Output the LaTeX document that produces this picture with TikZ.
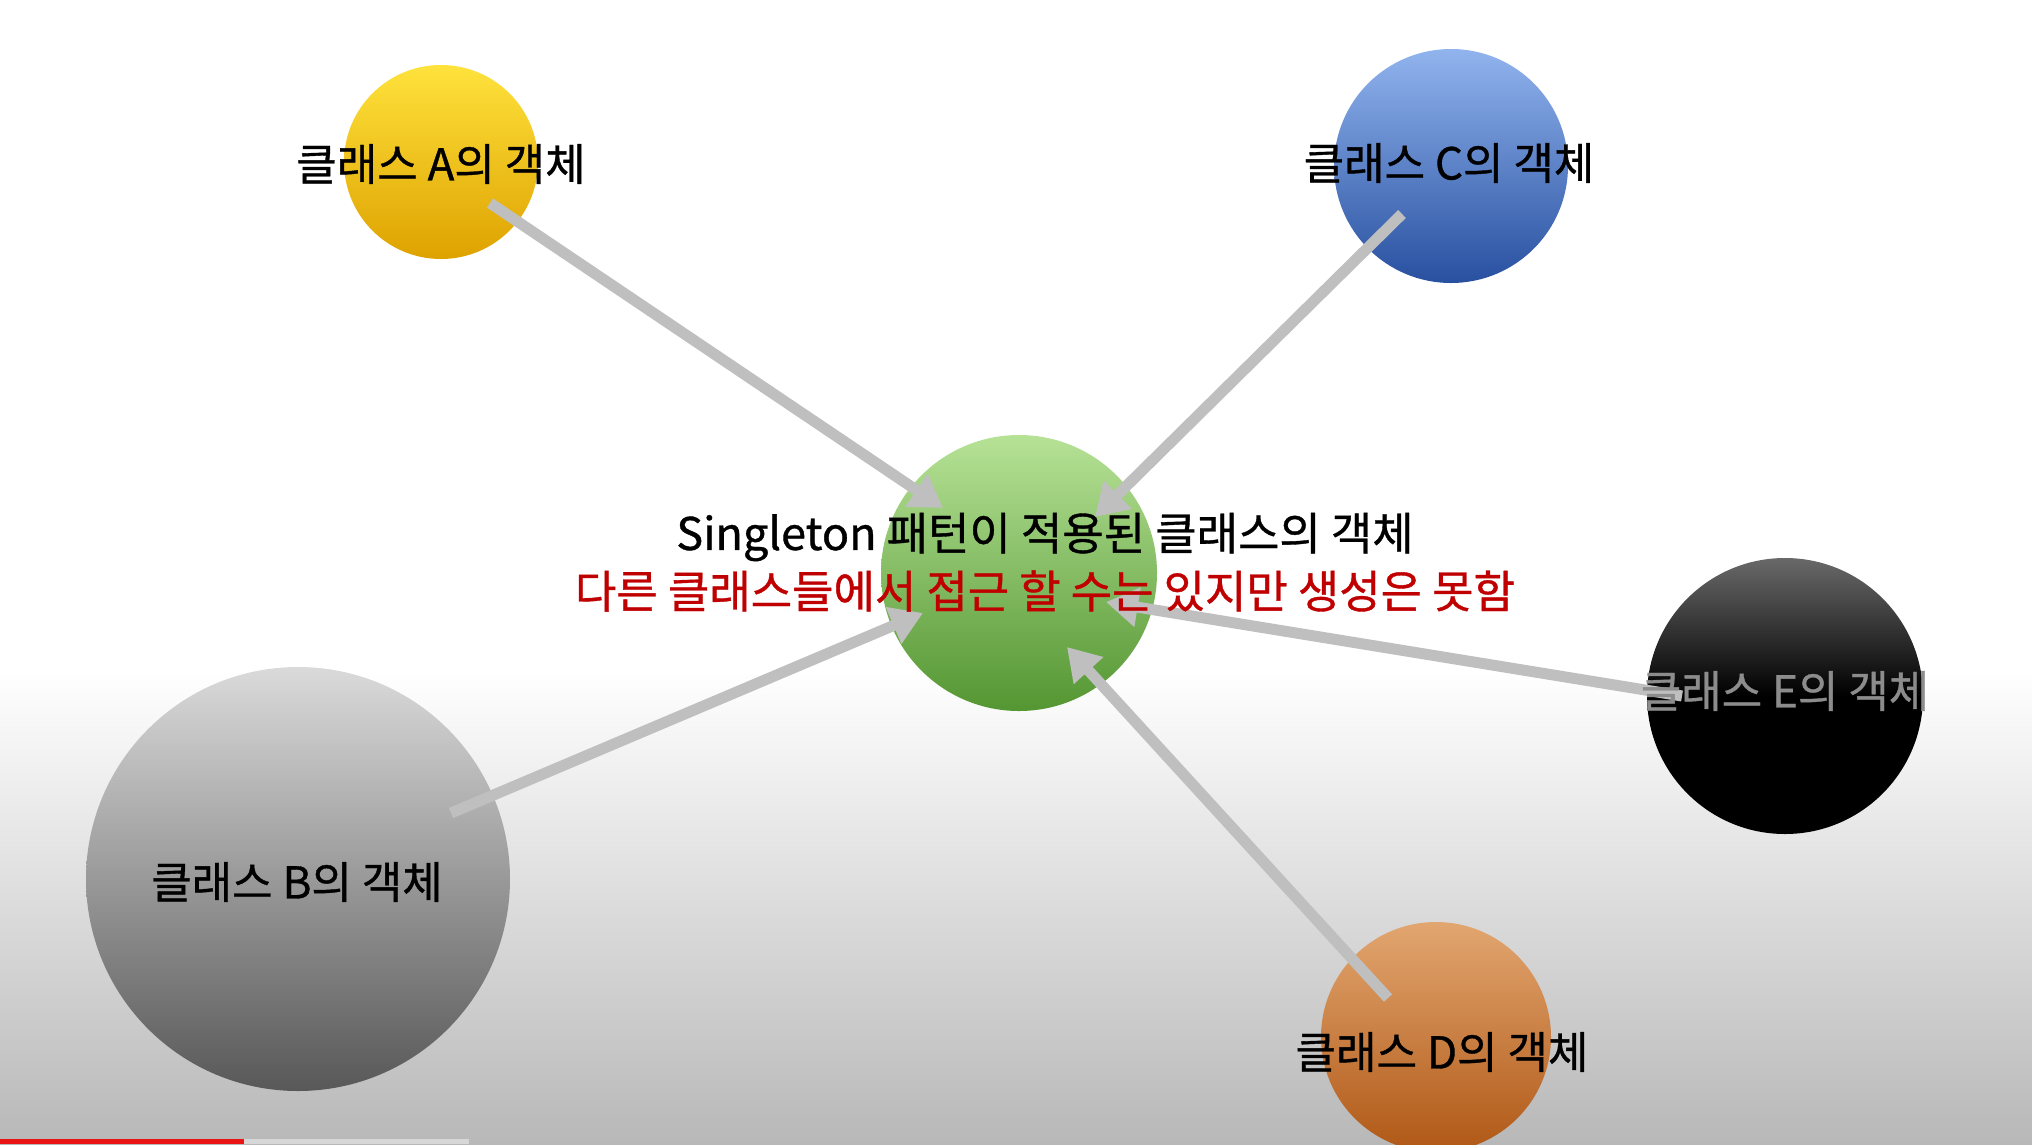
\documentclass[tikz,border=0pt]{standalone}
\usepackage{fontspec}
\setmainfont[FakeBold=0.8]{Noto Sans CJK KR}
\usetikzlibrary{arrows.meta}
\definecolor{arrowgrey}{RGB}{191,191,191}
\definecolor{redtxt}{RGB}{192,0,0}
\definecolor{etxt}{RGB}{140,140,140}
\definecolor{bgbot}{RGB}{184,184,184}
\definecolor{yelT}{RGB}{255,226,60}\definecolor{yelB}{RGB}{222,162,0}
\definecolor{bluT}{RGB}{145,180,238}\definecolor{bluB}{RGB}{40,80,160}
\definecolor{grnT}{RGB}{182,226,150}\definecolor{grnB}{RGB}{84,150,50}
\definecolor{blkT}{RGB}{105,105,105}
\definecolor{gryT}{RGB}{218,218,218}\definecolor{gryB}{RGB}{88,88,88}
\definecolor{orgT}{RGB}{226,166,112}\definecolor{orgB}{RGB}{176,88,22}
\definecolor{barred}{RGB}{235,20,20}\definecolor{bargrey}{RGB}{215,215,215}
\tikzset{
  ball/.style={circle, draw=none, inner sep=0pt},
  lbl/.style={font=\fontsize{44}{50}\selectfont, text=black, inner sep=0pt},
  conn/.style={draw=arrowgrey, line width=11pt, -{Triangle[length=32pt,width=38pt]}}
}
\begin{document}
\begin{tikzpicture}[x=1pt,y=-1pt]
\useasboundingbox (0,0) rectangle (2032,1144);
% background
\fill[white] (0,0) rectangle (2032,1144);
\shade[top color=white, bottom color=bgbot] (0,670) rectangle (2032,1144);
% balls
\node[ball, minimum size=194pt, top color=yelT, bottom color=yelB] (A) at (441,162) {};
\node[ball, minimum size=234pt, top color=bluT, bottom color=bluB] (C) at (1451,166) {};
\node[ball, minimum size=276pt, top color=grnT, bottom color=grnB] (S) at (1019,573) {};
\node[ball, minimum size=276pt, top color=blkT, bottom color=black, middle color=black] (E) at (1785,696) {};
\node[ball, minimum size=424pt, top color=gryT, bottom color=gryB] (B) at (298,879) {};
\node[ball, minimum size=230pt, top color=orgT, bottom color=orgB] (D) at (1436,1037) {};
% connector endpoints
\coordinate (As) at (490,203);  \coordinate (At) at (943,508);
\coordinate (Cs) at (1402,214); \coordinate (Ct) at (1095,517);
\coordinate (Bs) at (451,813);  \coordinate (Bt) at (923,613);
\coordinate (Es) at (1682,696); \coordinate (Et) at (1106,602);
\coordinate (Ds) at (1388,998); \coordinate (Dt) at (1067,647);
\draw[conn] (As) -- (At);
\draw[conn] (Cs) -- (Ct);
\draw[conn] (Bs) -- (Bt);
\draw[conn] (Es) -- (Et);
\draw[conn] (Ds) -- (Dt);
% labels
\node[lbl] (lA) at (441,164) {클래스 A의 객체};
\node[lbl] (lC) at (1449,163) {클래스 C의 객체};
\node[lbl] (lB) at (297,882) {클래스 B의 객체};
\node[lbl] (lD) at (1442,1052) {클래스 D의 객체};
\node[lbl, text=etxt] (lE) at (1785,691) {클래스 E의 객체};
\node[lbl, font=\fontsize{45}{52}\selectfont] (t1) at (1045,537) {Singleton 패턴이 적용된 클래스의 객체};
\node[lbl, font=\fontsize{45}{52}\selectfont, text=redtxt] (t2) at (1045,591) {다른 클래스들에서 접근 할 수는 있지만 생성은 못함};
% progress bar
\fill[barred] (0,1139) rectangle (244,1144);
\fill[bargrey] (244,1139) rectangle (469,1144);
\end{tikzpicture}
\end{document}
